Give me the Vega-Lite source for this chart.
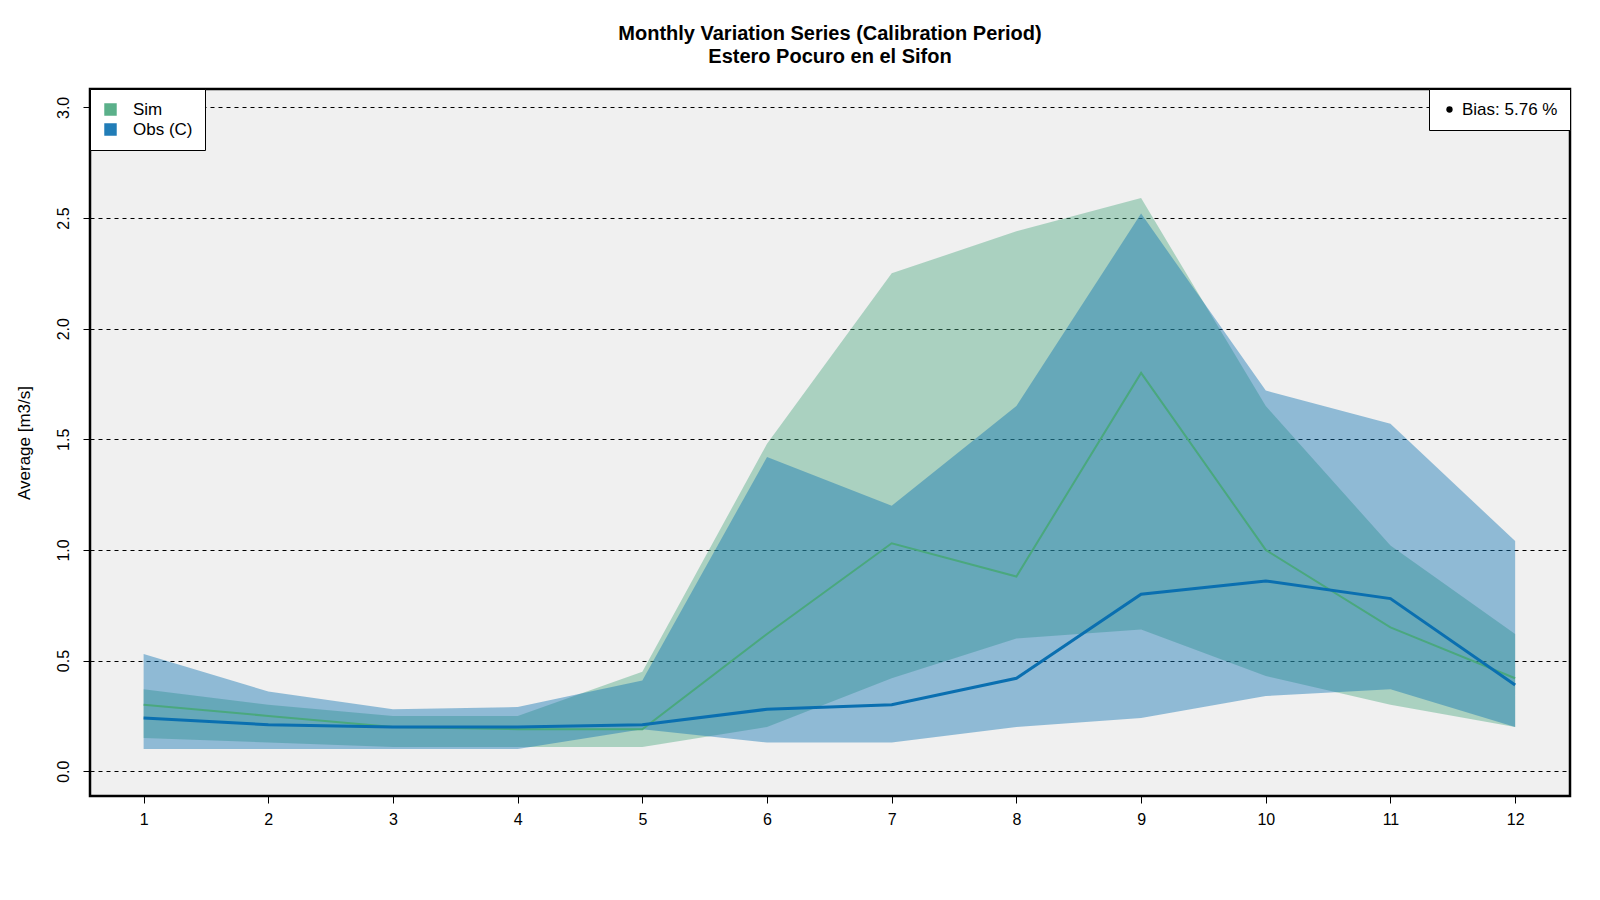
{
"$schema":"https://vega.github.io/schema/vega-lite/6.json",
"width":1480,"height":707,
"autosize":{"type":"none"},
"padding":{"left":90,"top":89,"right":30,"bottom":104},
"background":"white",
"config":{"font":"Liberation Sans","view":{"fill":"#f0f0f0","stroke":"black","strokeWidth":2.5}},
"title":{"text":["Monthly Variation Series (Calibration Period)","Estero Pocuro en el Sifon"],"fontSize":20,"font":"Liberation Sans","fontWeight":"bold","anchor":"middle","offset":22,"lineHeight":23},
"data":{"values":[
{"m":1,"s":"Sim","lo":0.15,"hi":0.37,"mean":0.30},
{"m":2,"s":"Sim","lo":0.13,"hi":0.30,"mean":0.25},
{"m":3,"s":"Sim","lo":0.11,"hi":0.25,"mean":0.20},
{"m":4,"s":"Sim","lo":0.11,"hi":0.25,"mean":0.19},
{"m":5,"s":"Sim","lo":0.11,"hi":0.45,"mean":0.19},
{"m":6,"s":"Sim","lo":0.20,"hi":1.48,"mean":0.62},
{"m":7,"s":"Sim","lo":0.42,"hi":2.25,"mean":1.03},
{"m":8,"s":"Sim","lo":0.60,"hi":2.44,"mean":0.88},
{"m":9,"s":"Sim","lo":0.64,"hi":2.59,"mean":1.80},
{"m":10,"s":"Sim","lo":0.43,"hi":1.65,"mean":1.00},
{"m":11,"s":"Sim","lo":0.30,"hi":1.02,"mean":0.65},
{"m":12,"s":"Sim","lo":0.20,"hi":0.62,"mean":0.42},
{"m":1,"s":"Obs (C)","lo":0.10,"hi":0.53,"mean":0.24},
{"m":2,"s":"Obs (C)","lo":0.10,"hi":0.36,"mean":0.21},
{"m":3,"s":"Obs (C)","lo":0.10,"hi":0.28,"mean":0.20},
{"m":4,"s":"Obs (C)","lo":0.10,"hi":0.29,"mean":0.20},
{"m":5,"s":"Obs (C)","lo":0.19,"hi":0.41,"mean":0.21},
{"m":6,"s":"Obs (C)","lo":0.13,"hi":1.42,"mean":0.28},
{"m":7,"s":"Obs (C)","lo":0.13,"hi":1.20,"mean":0.30},
{"m":8,"s":"Obs (C)","lo":0.20,"hi":1.65,"mean":0.42},
{"m":9,"s":"Obs (C)","lo":0.24,"hi":2.52,"mean":0.80},
{"m":10,"s":"Obs (C)","lo":0.34,"hi":1.72,"mean":0.86},
{"m":11,"s":"Obs (C)","lo":0.37,"hi":1.57,"mean":0.78},
{"m":12,"s":"Obs (C)","lo":0.20,"hi":1.04,"mean":0.39}
]},
"encoding":{
"x":{"field":"m","type":"quantitative","scale":{"domain":[0.57,12.44],"nice":false,"zero":false},"axis":{"values":[1,2,3,4,5,6,7,8,9,10,11,12],"title":null,"grid":false,"labelFontSize":16,"labelColor":"black","tickColor":"black","domain":false,"tickSize":7,"labelPadding":8}},
"color":{"field":"s","type":"nominal","scale":{"domain":["Sim","Obs (C)"],"range":["#4aa87e","#0a6fb0"]},"legend":{"title":null,"orient":"top-left","offset":0,"fillColor":"white","strokeColor":"black","padding":12,"labelFontSize":17,"symbolType":"square","symbolSize":120,"symbolOpacity":0.9,"labelColor":"black","labelOffset":14}}
},
"layer":[
{"mark":{"type":"area","opacity":0.42},"encoding":{"y":{"field":"hi","type":"quantitative","scale":{"domain":[-0.112,3.083],"nice":false,"zero":false},"axis":{"values":[0,0.5,1,1.5,2,2.5,3],"format":".1f","title":"Average [m3/s]","titleFontSize":17,"titleFontWeight":"normal","titleColor":"black","titlePadding":22,"labelAngle":-90,"labelAlign":"center","labelBaseline":"bottom","labelPadding":12,"labelFontSize":16,"labelColor":"black","grid":true,"gridColor":"black","gridDash":[4,4],"gridOpacity":1,"domain":false,"tickColor":"black","tickSize":7}},"y2":{"field":"lo"}}},
{"mark":{"type":"line"},"encoding":{"y":{"field":"mean","type":"quantitative"},"size":{"condition":{"test":"datum.s==='Obs (C)'","value":3},"value":2}}},
{"data":{"values":[{"m":12.5,"v":3.5,"b":"Bias: 5.76 %"}]},"mark":{"type":"point","filled":true,"opacity":0,"clip":true},"encoding":{"y":{"field":"v","type":"quantitative"},"color":{"value":"black"},"shape":{"field":"b","type":"nominal","scale":{"range":["circle"]},"legend":{"title":null,"orient":"top-right","offset":0,"fillColor":"white","strokeColor":"black","padding":12,"labelFontSize":17,"symbolSize":40,"symbolOpacity":1,"symbolFillColor":"black","labelColor":"black"}}}}
]
}
